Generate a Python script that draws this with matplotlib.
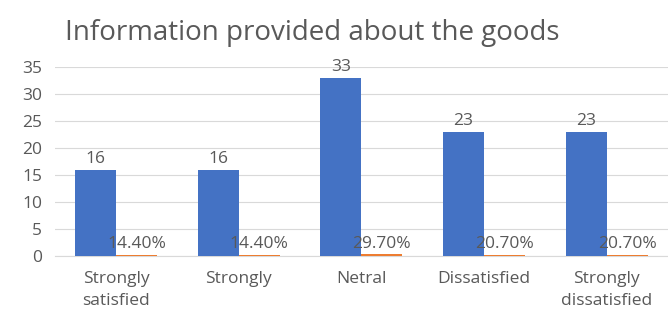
import numpy as np
import matplotlib.pyplot as plt

categories = ["Strongly\nsatisfied", "Strongly", "Netral", "Dissatisfied", "Strongly\ndissatisfied"]
counts = [16, 16, 33, 23, 23]
shares = [0.144, 0.144, 0.297, 0.207, 0.207]
share_labels = ["14.40%", "14.40%", "29.70%", "20.70%", "20.70%"]

plt.rcParams['font.family'] = ['Open Sans', 'DejaVu Sans']
grey = "#595959"

fig = plt.figure(figsize=(6.68, 3.2), dpi=100)
ax = fig.add_axes([0.082, 0.2, 0.918, 0.59])

x = np.arange(len(categories))
w = 0.335
b1 = ax.bar(x - w / 2, counts, w, color="#4472C4", zorder=3)
b2 = ax.bar(x + w / 2, shares, w, color="#ED7D31", zorder=3)

for rect, v in zip(b1, counts):
    ax.annotate(str(v), (rect.get_x() + rect.get_width() / 2, rect.get_height()),
                xytext=(0, 2), textcoords="offset points", ha="center", va="bottom",
                fontsize=12.5, color=grey)
for rect, lab in zip(b2, share_labels):
    ax.annotate(lab, (rect.get_x() + rect.get_width() / 2, rect.get_height()),
                xytext=(0, 2), textcoords="offset points", ha="center", va="bottom",
                fontsize=12.5, color=grey, zorder=4)

ax.set_xlim(-0.5, len(categories) - 0.5)
ax.set_ylim(0, 35)
ax.set_yticks(range(0, 36, 5))
ax.set_xticks(x)
ax.set_xticklabels(categories, linespacing=1.45)
ax.tick_params(axis="both", length=0, labelsize=12.5, labelcolor=grey)
ax.tick_params(axis="x", pad=11)
ax.tick_params(axis="y", pad=9)
ax.grid(axis="y", color="#d9d9d9", linewidth=0.8, zorder=0)
for s in ["top", "right", "left"]:
    ax.spines[s].set_visible(False)
ax.spines["bottom"].set_color("#d9d9d9")

fig.suptitle("Information provided about the goods", x=0.468, y=0.94,
             fontsize=20, color=grey)

fig.savefig("out.png", dpi=100)
